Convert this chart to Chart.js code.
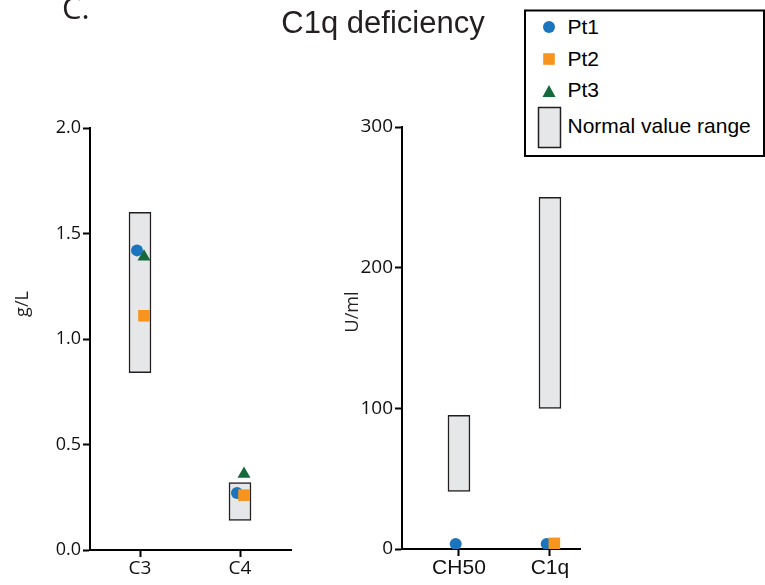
<!DOCTYPE html>
<html><head><meta charset="utf-8">
<script src="https://cdn.jsdelivr.net/npm/chart.js@4.4.1/dist/chart.umd.min.js"></script>
<style>
html,body{margin:0;padding:0;background:#fff;}
#wrap{position:relative;width:765px;height:585px;overflow:hidden;background:#fff}
canvas{position:absolute;top:0}
svg{position:absolute;left:0;top:0}
</style></head><body>
<div id="wrap">
<canvas id="leftChart" width="320" height="585" style="left:0;width:320px;height:585px"></canvas>
<canvas id="rightChart" width="445" height="585" style="left:320px;width:445px;height:585px"></canvas>
<svg width="765" height="585" xmlns="http://www.w3.org/2000/svg">
  <text x="62" y="19" font-family="Open Sans" font-size="31" fill="#231f20">C.</text>
  <text x="383" y="33" text-anchor="middle" font-family="Liberation Sans" font-size="31" fill="#231f20">C1q deficiency</text>
  <text transform="translate(28,304) rotate(-90)" text-anchor="middle" font-family="Open Sans" font-size="18" fill="#231f20">g/L</text>
  <text transform="translate(358,312) rotate(-90)" text-anchor="middle" font-family="Open Sans" font-size="18" fill="#231f20">U/ml</text>
  <g id="legend">
    <rect x="525" y="10.5" width="239" height="145.5" fill="#fff" stroke="#000" stroke-width="2"/>
    <circle cx="549" cy="27" r="6" fill="#1b75bc"/>
    <text x="567.5" y="33.5" font-family="Liberation Sans" font-size="21" fill="#000">Pt1</text>
    <rect x="543.2" y="53.2" width="11.6" height="11.6" fill="#f7941d"/>
    <text x="567.5" y="66" font-family="Liberation Sans" font-size="21" fill="#000">Pt2</text>
    <polygon points="549,85 555.5,97 542.5,97" fill="#16693a"/>
    <text x="567.5" y="97" font-family="Liberation Sans" font-size="21" fill="#000">Pt3</text>
    <rect x="538.5" y="107.5" width="22" height="40" fill="#e6e7e8" stroke="#231f20" stroke-width="1.5"/>
    <text x="567.5" y="133" font-family="Liberation Sans" font-size="21" fill="#000">Normal value range</text>
  </g>
</svg>
</div>
<script>
// ---- data ----
const seriesNames = ['Pt1', 'Pt2', 'Pt3'];
const rangeName = 'Normal value range';

const leftCategories = ['C3', 'C4'];
const leftPt1 = [1.42, 0.27];
const leftPt2 = [1.11, 0.26];
const leftPt3 = [1.39, 0.36];
const leftRangeLow = [0.84, 0.14];
const leftRangeHigh = [1.60, 0.32];
const leftTicks = [0, 0.5, 1.0, 1.5, 2.0];

const rightCategories = ['CH50', 'C1q'];
const rightPt1 = [3.5, 3.5];
const rightPt2 = [null, 4];
const rightPt3 = [null, null];
const rightRangeLow = [41, 100];
const rightRangeHigh = [95, 250];
const rightTicks = [0, 100, 200, 300];

// ---- styles ----
const seriesStyle = [
  {pointStyle: 'circle', radius: 6, color: '#1b75bc', jitter: -0.03, order: 3},
  {pointStyle: 'rect', radius: 8.2, color: '#f7941d', jitter: 0.04, order: 2},
  {pointStyle: 'triangle', radius: 7.5, color: '#16693a', jitter: 0.04, order: 1}
];
const INK = '#111';

function buildChart(id, cats, pts, lo, hi, ticks, lay) {
  const datasets = [{
    type: 'bar',
    label: rangeName,
    data: cats.map((c, i) => ({x: i, y: [lo[i], hi[i]]})),
    backgroundColor: '#e6e7e8',
    borderColor: '#231f20',
    borderWidth: 1.5,
    borderSkipped: false,
    barThickness: 22,
    grouped: false,
    order: 10
  }];
  pts.forEach((vals, k) => {
    const st = seriesStyle[k];
    const data = [];
    cats.forEach((c, i) => { if (vals[i] != null) data.push({x: i + st.jitter * lay.jitterScale, y: vals[i]}); });
    datasets.push({
      type: 'scatter',
      label: seriesNames[k],
      data: data,
      pointStyle: st.pointStyle,
      pointRadius: st.radius,
      pointHoverRadius: st.radius,
      backgroundColor: st.color,
      borderColor: st.color,
      borderWidth: 0,
      order: st.order
    });
  });
  const axisGrid = {display: true, drawOnChartArea: false, drawTicks: true, tickLength: 7, tickWidth: 2, tickColor: '#000', offset: false};
  const axisBorder = {display: true, color: '#000', width: 2};
  return new Chart(document.getElementById(id), {
    type: 'bar',
    data: {datasets: datasets},
    options: {
      responsive: false,
      animation: false,
      devicePixelRatio: 1,
      layout: {padding: lay.padding},
      plugins: {legend: {display: false}, tooltip: {enabled: false}, title: {display: false}},
      scales: {
        x: {
          type: 'linear',
          min: lay.xMin, max: lay.xMax,
          offset: false,
          afterBuildTicks: s => { s.ticks = cats.map((c, i) => ({value: i})); },
          afterFit: s => { s.height = lay.xAxisH; },
          ticks: {autoSkip: false, maxRotation: 0, padding: lay.xPad, color: INK,
                  font: {family: lay.xFont, size: lay.xSize},
                  callback: v => cats[Math.round(v)] ?? ''},
          grid: axisGrid,
          border: axisBorder
        },
        y: {
          type: 'linear',
          min: ticks[0], max: ticks[ticks.length - 1],
          afterBuildTicks: s => { s.ticks = ticks.map(v => ({value: v})); },
          afterFit: s => { s.width = lay.yAxisW; },
          ticks: {padding: 2, color: INK, font: {family: 'Open Sans', size: lay.ySize},
                  callback: v => lay.fmt(v)},
          grid: axisGrid,
          border: axisBorder
        }
      }
    }
  });
}

buildChart('leftChart', leftCategories, [leftPt1, leftPt2, leftPt3], leftRangeLow, leftRangeHigh, leftTicks, {
  padding: {top: 128, right: 29, left: 0, bottom: 0},
  xMin: -0.5, xMax: 1.51, xAxisH: 35, yAxisW: 90, jitterScale: 1,
  xFont: 'Open Sans', xSize: 19, xPad: 0, ySize: 18,
  fmt: v => v.toFixed(1)
});

buildChart('rightChart', rightCategories, [rightPt1, rightPt2, rightPt3], rightRangeLow, rightRangeHigh, rightTicks, {
  padding: {top: 127, right: 185, left: 0, bottom: 0},
  xMin: -0.626, xMax: 1.33, xAxisH: 36, yAxisW: 82, jitterScale: 1.2,
  xFont: 'Liberation Sans', xSize: 21, xPad: 0, ySize: 19,
  fmt: v => String(v)
});
</script>
</body></html>
